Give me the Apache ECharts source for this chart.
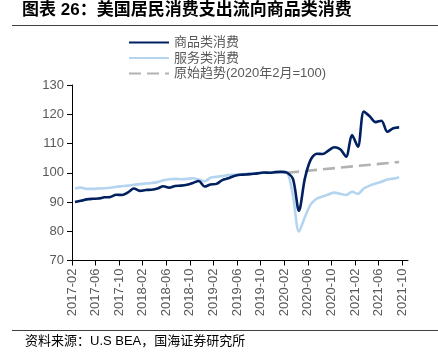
<!DOCTYPE html>
<html>
<head>
<meta charset="utf-8">
<script src="https://cdn.jsdelivr.net/npm/echarts@6/dist/echarts.min.js"></script>
<style>
  html, body { margin: 0; padding: 0; background: #fff; }
  #chart { width: 438px; height: 352px; }
</style>
</head>
<body>
<div id="chart"></div>
<script>
// 月份（类目轴），2017-02 ~ 2021-10
var months = [
  '2017-02','2017-03','2017-04','2017-05','2017-06','2017-07','2017-08','2017-09','2017-10','2017-11','2017-12',
  '2018-01','2018-02','2018-03','2018-04','2018-05','2018-06','2018-07','2018-08','2018-09','2018-10','2018-11','2018-12',
  '2019-01','2019-02','2019-03','2019-04','2019-05','2019-06','2019-07','2019-08','2019-09','2019-10','2019-11','2019-12',
  '2020-01','2020-02','2020-03','2020-04','2020-05','2020-06','2020-07','2020-08','2020-09','2020-10','2020-11','2020-12',
  '2021-01','2021-02','2021-03','2021-04','2021-05','2021-06','2021-07','2021-08','2021-09','2021-10'
];

// 商品类消费（2020年2月=100）
var goods = [
  90.0, 90.4, 90.9, 91.1, 91.2, 91.6, 91.7, 92.5, 92.4, 93.3,
  94.6, 93.8, 94.1, 94.2, 94.6, 95.4, 94.9, 95.5, 95.6, 95.9,
  96.5, 97.2, 95.3, 96.0, 96.2, 97.5, 98.1, 98.9, 99.3, 99.4,
  99.6, 99.8, 100.1, 100.0, 100.2, 100.3, 100.0, 97.8, 87.0, 98.0,
  104.5, 106.5, 106.4, 107.6, 108.7, 108.0, 105.5, 112.9, 108.9, 120.9,
  119.3, 117.3, 117.8, 114.0, 115.2, 115.5
];

// 服务类消费
var services = [
  94.6, 94.9, 94.5, 94.5, 94.6, 94.7, 94.9, 95.2, 95.4, 95.6,
  95.9, 96.1, 96.3, 96.5, 96.8, 97.4, 97.8, 97.9, 97.8, 97.9,
  98.1, 97.7, 97.1, 98.3, 98.6, 98.9, 99.2, 99.3, 99.5, 99.6,
  99.7, 99.9, 100.0, 100.1, 100.2, 100.3, 100.0, 92.0, 79.9, 84.8,
  89.2, 91.1, 91.9, 92.6, 93.2, 92.8, 92.4, 93.5, 92.8, 94.6,
  95.6, 96.3, 96.9, 97.7, 98.0, 98.5
];

// 原始趋势：起止两点
var trendMonths = ['2020-02', '2021-09'];
var trendValues = [100, 103.7];

var yTicks = { min: 70, max: 130, step: 10 };

var FONT = '"Liberation Sans", "Noto Sans CJK SC", sans-serif';
var GREY = '#595959';

var chart = echarts.init(document.getElementById('chart'));

var trendData = trendMonths.map(function (m, i) { return [m, trendValues[i]]; });

var option = {
  animation: false,
  textStyle: { fontFamily: FONT },
  grid: { left: 72, right: 30, top: 85, bottom: 91.5, containLabel: false },
  legend: {
    orient: 'vertical',
    left: 123,
    top: 31,
    itemWidth: 40,
    itemHeight: 13,
    itemGap: 2.5,
    itemStyle: { opacity: 0 },
    textStyle: { color: GREY, fontSize: 13, fontFamily: FONT },
    data: ['商品类消费', '服务类消费', '原始趋势(2020年2月=100)']
  },
  xAxis: [
    {
      type: 'category',
      data: months,
      boundaryGap: true,
      show: false
    },
    {
      type: 'category',
      position: 'bottom',
      data: months.concat(['']),
      boundaryGap: false,
      axisLine: { lineStyle: { color: '#000', width: 1 } },
      axisTick: { interval: 3, length: 5, lineStyle: { color: '#000' } },
      axisLabel: {
        interval: 3,
        rotate: 90,
        margin: 8,
        color: GREY,
        fontSize: 13,
        fontFamily: FONT
      },
      splitLine: { show: false }
    }
  ],
  yAxis: {
    type: 'value',
    min: yTicks.min,
    max: yTicks.max,
    interval: yTicks.step,
    axisLine: { show: true, lineStyle: { color: '#000', width: 1 } },
    axisTick: { show: true, length: 5, lineStyle: { color: '#000' } },
    axisLabel: { color: GREY, fontSize: 13, margin: 8, fontFamily: FONT },
    splitLine: { show: false }
  },
  series: [
    {
      name: '商品类消费',
      type: 'line',
      xAxisIndex: 0,
      data: goods,
      symbol: 'none',
      smooth: 0.3,
      z: 4,
      lineStyle: { color: '#002060', width: 2.6 },
      itemStyle: { color: '#002060' }
    },
    {
      name: '服务类消费',
      type: 'line',
      xAxisIndex: 0,
      data: services,
      symbol: 'none',
      smooth: 0.3,
      z: 2,
      lineStyle: { color: '#B4D4F0', width: 2.6 },
      itemStyle: { color: '#B4D4F0' }
    },
    {
      name: '原始趋势(2020年2月=100)',
      type: 'line',
      xAxisIndex: 0,
      data: trendData,
      symbol: 'none',
      connectNulls: true,
      z: 3,
      lineStyle: { color: '#B2B2B2', width: 2.6, type: [12, 6] },
      itemStyle: { color: '#B2B2B2' }
    }
  ],
  graphic: [
    {
      type: 'text',
      left: 22,
      top: 2,
      style: {
        text: '图表 26：美国居民消费支出流向商品类消费',
        fontSize: 17,
        fontWeight: 'bold',
        fill: '#000',
        fontFamily: FONT
      }
    },
    {
      type: 'line',
      shape: { x1: 12, y1: 25.5, x2: 438, y2: 25.5 },
      style: { stroke: '#404040', lineWidth: 1 }
    },
    {
      type: 'line',
      shape: { x1: 12, y1: 330.5, x2: 438, y2: 330.5 },
      style: { stroke: '#404040', lineWidth: 1 }
    },
    {
      type: 'text',
      left: 25,
      top: 335,
      style: {
        text: '资料来源：U.S BEA，国海证券研究所',
        fontSize: 13,
        fill: '#000',
        fontFamily: FONT
      }
    }
  ]
};

chart.setOption(option);
</script>
</body>
</html>
